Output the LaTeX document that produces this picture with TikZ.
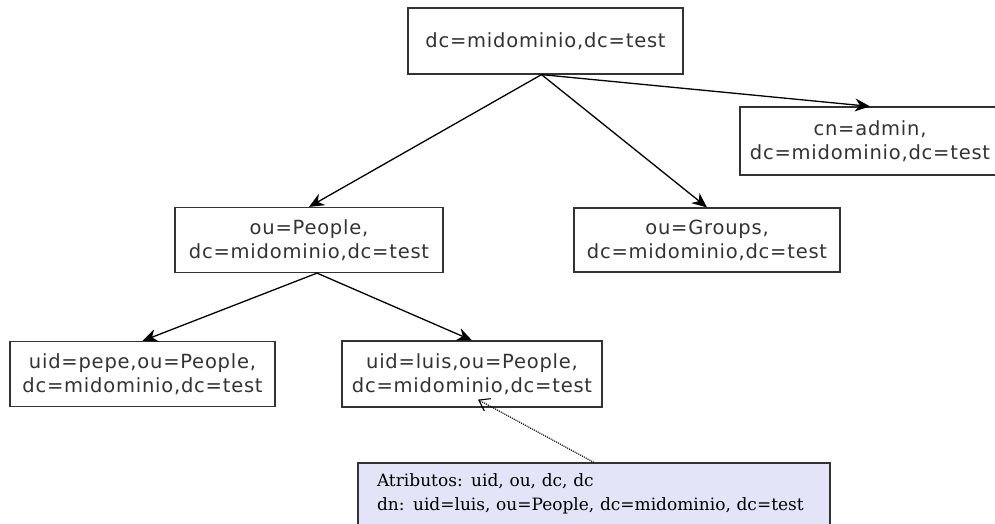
\documentclass[tikz,border=0pt]{standalone}
\usepackage{fontspec}
\setmainfont{DejaVu Serif}
\newfontfamily\boxfont[LetterSpace=4]{DejaVu Sans}
\usetikzlibrary{arrows.meta}

\tikzset{
  ldapbox/.style={draw=black!80, line width=1.2pt, fill=white, align=center,
    text=black!80, font=\boxfont\fontsize{19.5}{24}\selectfont, inner sep=0pt},
  treearrow/.style={line width=1.3pt, -{Stealth[length=15pt,width=13pt]}},
  notearrow/.style={line width=1.1pt, densely dotted, -{Straight Barb[length=10pt,width=14pt]}},
}

\begin{document}
\begin{tikzpicture}[x=1pt,y=-1pt]
  \pgfmathsetmacro{\RowOne}{41}
  \pgfmathsetmacro{\RowTwo}{240}
  \pgfmathsetmacro{\RowThree}{374}
  \clip (0,0) rectangle (995,524);
  \fill[white] (0,0) rectangle (995,524);

  \node[ldapbox, minimum width=275pt, minimum height=66pt] (root) at (545.5,\RowOne) {dc=midominio,dc=test};
  \node[ldapbox, minimum width=260pt, minimum height=68pt] (admin) at (870,141) {cn=admin,\\dc=midominio,dc=test};
  \node[ldapbox, minimum width=268pt, minimum height=65pt] (people) at (309,\RowTwo) {ou=People,\\dc=midominio,dc=test};
  \node[ldapbox, minimum width=266pt, minimum height=64pt] (groups) at (707,\RowTwo) {ou=Groups,\\dc=midominio,dc=test};
  \node[ldapbox, minimum width=265pt, minimum height=65pt] (pepe) at (142.5,\RowThree) {uid=pepe,ou=People,\\dc=midominio,dc=test};
  \node[ldapbox, minimum width=260pt, minimum height=66pt] (luis) at (472,\RowThree) {uid=luis,ou=People,\\dc=midominio,dc=test};

  % nota con los atributos
  \node[draw=black!80, line width=1.2pt, fill={rgb,255:red,228;green,228;blue,248},
    align=left, text width=434pt, inner xsep=19pt, minimum height=62pt,
    font=\fontsize{17}{24}\selectfont] (attr) at (594,494)
    {Atributos: uid, ou, dc, dc\\dn: uid=luis, ou=People, dc=midominio, dc=test};

  \draw[treearrow] ([xshift=-4pt]root.south) -- (people.north);
  \draw[treearrow] ([xshift=-4pt]root.south) -- (groups.north);
  \draw[treearrow] ([xshift=-4pt]root.south) -- (admin.north);
  \draw[treearrow] ([xshift=8pt]people.south) -- (pepe.north);
  \draw[treearrow] ([xshift=8pt]people.south) -- (luis.north);
  \draw[notearrow] (attr.north) -- ([xshift=6pt,yshift=8pt]luis.south);
\end{tikzpicture}
\end{document}
